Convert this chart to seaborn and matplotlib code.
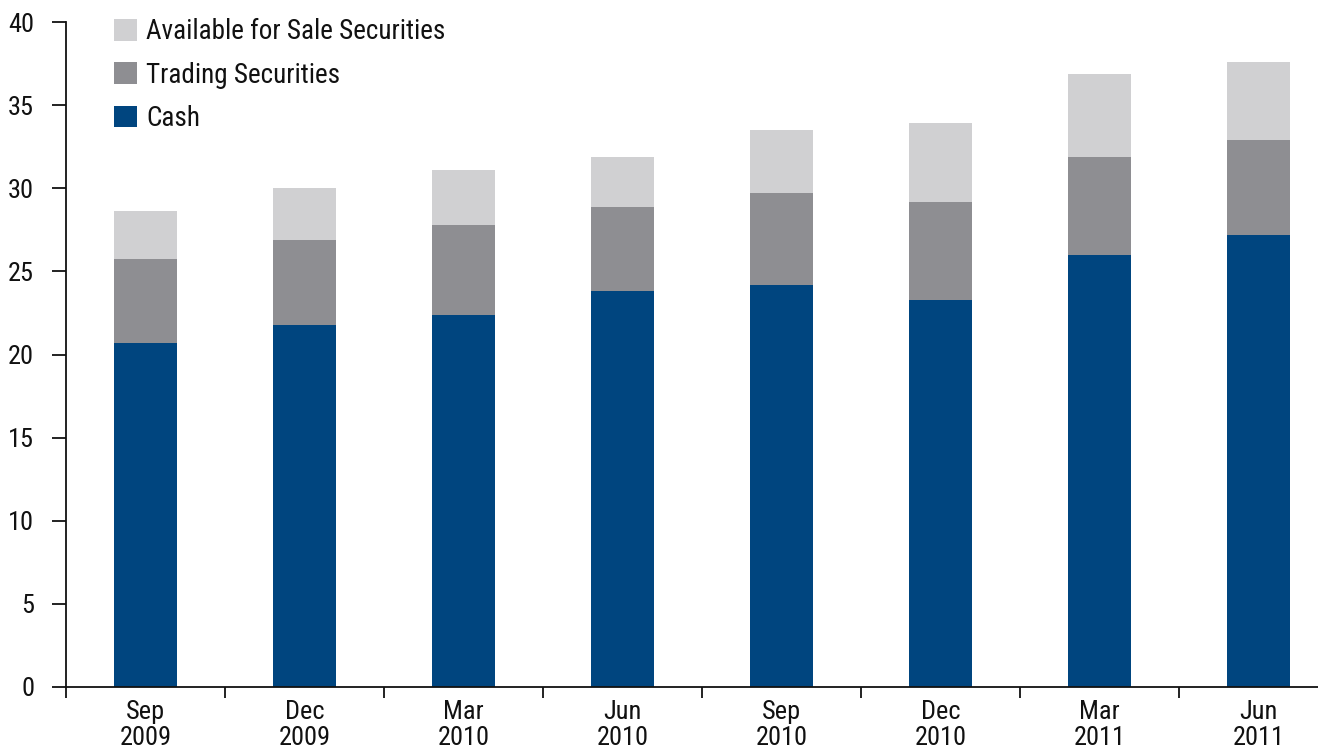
import matplotlib
matplotlib.use("Agg")
import matplotlib.pyplot as plt
from matplotlib.patches import Patch
from matplotlib import font_manager
import numpy as np
import pandas as pd
import seaborn as sns

quarters = ["Sep\n2009", "Dec\n2009", "Mar\n2010", "Jun\n2010",
            "Sep\n2010", "Dec\n2010", "Mar\n2011", "Jun\n2011"]
cash = [20.7, 21.8, 22.4, 23.8, 24.2, 23.3, 26.0, 27.2]
trading = [5.05, 5.1, 5.4, 5.05, 5.5, 5.85, 5.9, 5.7]
available_for_sale = [2.9, 3.1, 3.3, 3.05, 3.8, 4.8, 5.0, 4.7]

series_names = ["Available for Sale Securities", "Trading Securities", "Cash"]
colors = {"Cash": "#00457f",
          "Trading Securities": "#8e8e92",
          "Available for Sale Securities": "#d0d0d2"}

sns.set_theme(style="white")

# prefer a narrow sans face if one is installed
entries = font_manager.fontManager.ttflist
names = {f.name for f in entries}
narrow = [n for n in ["Liberation Sans Narrow", "Roboto Condensed",
                      "Open Sans Condensed", "DejaVu Sans Condensed"] if n in names]
condensed_faces = [f.name for f in entries if str(f.stretch) in ("condensed", "semi-condensed")]
if narrow:
    plt.rcParams["font.family"] = [narrow[0], "DejaVu Sans"]
elif condensed_faces:
    plt.rcParams["font.family"] = [condensed_faces[0], "DejaVu Sans"]
    plt.rcParams["font.stretch"] = "condensed"
else:
    plt.rcParams["font.family"] = ["DejaVu Sans"]
plt.rcParams["text.color"] = "#111111"
plt.rcParams["xtick.color"] = "#111111"
plt.rcParams["ytick.color"] = "#111111"

df = pd.DataFrame({"quarter": quarters, "cash": cash,
                   "trading": trading, "afs": available_for_sale})
df["lvl_cash"] = df["cash"]
df["lvl_trading"] = df["cash"] + df["trading"]
df["lvl_total"] = df["lvl_trading"] + df["afs"]

fig = plt.figure(figsize=(13.18, 7.52), dpi=100)
ax = fig.add_axes([66 / 1318, 1 - 687 / 752, 1 - 66 / 1318, 665 / 752])

for col, name in [("lvl_total", "Available for Sale Securities"),
                  ("lvl_trading", "Trading Securities"),
                  ("lvl_cash", "Cash")]:
    sns.barplot(data=df, x="quarter", y=col, color=colors[name],
                saturation=1, width=0.40, ax=ax, linewidth=0)

ax.set_xlim(-0.5, (1318 - 66) / 159 - 0.5)
ax.set_ylim(0, 40)
ax.set_yticks(np.arange(0, 41, 5))
ax.set_xlabel("")
ax.set_ylabel("")

for side in ["top", "right"]:
    ax.spines[side].set_visible(False)
for side in ["left", "bottom"]:
    ax.spines[side].set_color("#111111")
    ax.spines[side].set_linewidth(1.3)

ax.tick_params(axis="y", direction="out", length=10, width=1.3,
               labelsize=19, pad=13, left=True)
ax.tick_params(axis="x", which="major", length=0, labelsize=19, pad=9.5)
ax.set_xticks(np.arange(len(quarters)) - 0.5, minor=True)
ax.tick_params(axis="x", which="minor", direction="out", length=8, width=1.3,
               bottom=True)
for lbl in ax.get_xticklabels():
    lbl.set_linespacing(1.08)

handles = [Patch(facecolor=colors[n], edgecolor="none") for n in series_names]
ax.legend(handles, series_names, loc="upper left", bbox_to_anchor=(0.025, 1.03),
          frameon=False, fontsize=19.5, handlelength=0.85, handleheight=0.85,
          handletextpad=0.35, labelspacing=0.6, borderaxespad=0.2)

fig.savefig("out.png", dpi=100, facecolor="white")
